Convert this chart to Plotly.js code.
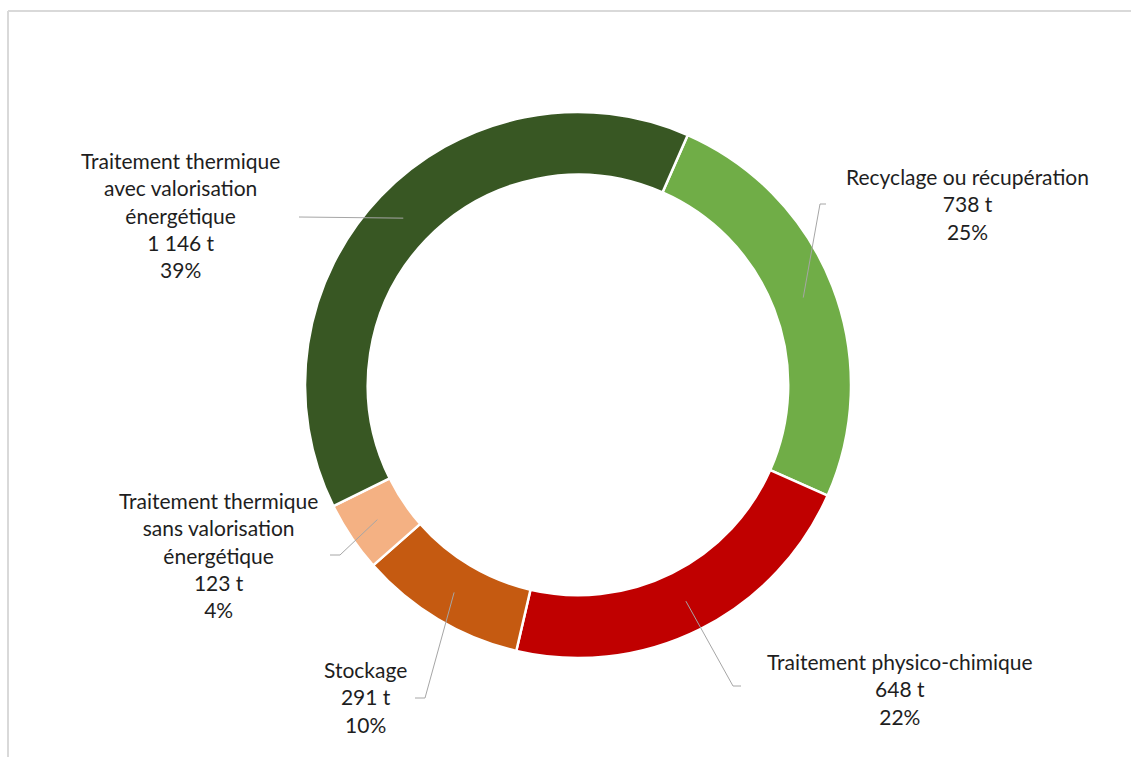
<!DOCTYPE html>
<html>
<head>
<meta charset="utf-8">
<script src="https://cdn.plot.ly/plotly-3.0.1.min.js"></script>
<style>html,body{margin:0;padding:0;background:#fff;}#chart{width:1131px;height:757px;}</style>
</head>
<body>
<div id="chart"></div>
<script>
// ---- data ----
var categories = ["Recyclage ou récupération", "Traitement physico-chimique", "Stockage", "Traitement thermique<br>sans valorisation<br>énergétique", "Traitement thermique<br>avec valorisation<br>énergétique"];
var tonnages = [738, 648, 291, 123, 1146];
var tonnageLabels = ["738 t", "648 t", "291 t", "123 t", "1 146 t"];
var percentLabels = ["25%", "22%", "10%", "4%", "39%"];
var colors = ["#70ad47", "#c00000", "#c55a11", "#f4b183", "#385723"];

// ---- layout constants (pixels) ----
var W = 1131, H = 757;
var cx = 578, cy = 385, R = 273, hole = 0.77;
var startAngle = 23.7;
// label centres and leader elbows (px)
var labelPos = [[967, 204], [900, 689], [365, 697], [218, 555], [180, 215]];
var elbows = [
  [[826, 204], [820, 204]],
  [[741, 686], [733, 686]],
  [[415, 698], [425, 698]],
  [[330, 555], [340, 555]],
  [[299, 217], [299, 217]]
];

function px(x) { return x / W; }
function py(y) { return 1 - y / H; }

var total = tonnages.reduce(function (a, b) { return a + b; }, 0);
var shapes = [];
var annotations = [];
var acc = 0;
var rMid = R * (1 + hole) / 2;
for (var i = 0; i < tonnages.length; i++) {
  var mid = startAngle + (acc + tonnages[i] / 2) / total * 360;
  acc += tonnages[i];
  var a = mid * Math.PI / 180;
  var ax = cx + rMid * Math.sin(a), ay = cy - rMid * Math.cos(a);
  var e = elbows[i];
  shapes.push({
    type: "path", xref: "paper", yref: "paper",
    path: "M" + px(e[0][0]) + "," + py(e[0][1]) + " L" + px(e[1][0]) + "," + py(e[1][1]) + " L" + px(ax) + "," + py(ay),
    line: { color: "#a6a6a6", width: 1 }
  });
  annotations.push({
    xref: "paper", yref: "paper", x: px(labelPos[i][0]), y: py(labelPos[i][1]),
    xanchor: "center", yanchor: "middle", showarrow: false, align: "center",
    text: categories[i] + "<br>" + tonnageLabels[i] + "<br>" + percentLabels[i],
    font: { family: "Lato, 'Open Sans', sans-serif", size: 21, color: "#1e1e1e" }
  });
}
// frame
shapes.push({ type: "line", xref: "paper", yref: "paper", x0: px(8), y0: py(11), x1: 1, y1: py(11), line: { color: "#d9d9d9", width: 2 } });
shapes.push({ type: "line", xref: "paper", yref: "paper", x0: px(8), y0: py(11), x1: px(8), y1: 0, line: { color: "#d9d9d9", width: 2 } });

var trace = {
  type: "pie",
  values: tonnages,
  labels: categories,
  hole: hole,
  sort: false,
  direction: "clockwise",
  rotation: startAngle,
  textinfo: "none",
  hoverinfo: "label+value+percent",
  marker: { colors: colors, line: { color: "#ffffff", width: 2.5 } },
  domain: { x: [px(cx - R), px(cx + R)], y: [py(cy + R), py(cy - R)] },
  showlegend: false
};

var layout = {
  width: W, height: H,
  margin: { l: 0, r: 0, t: 0, b: 0 },
  paper_bgcolor: "#ffffff",
  showlegend: false,
  shapes: shapes,
  annotations: annotations
};
Plotly.newPlot("chart", [trace], layout, { displayModeBar: false, staticPlot: true });
</script>
</body>
</html>
